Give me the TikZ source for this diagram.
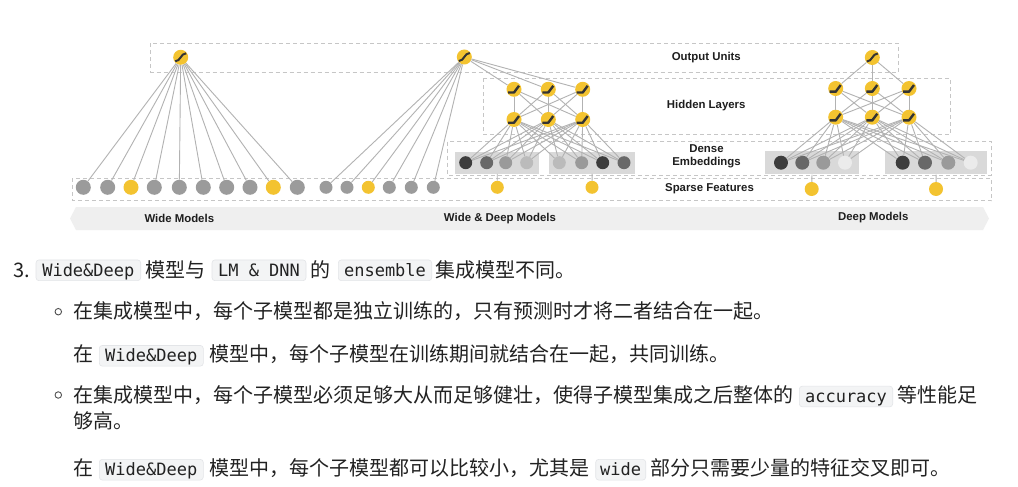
\documentclass[tikz,border=0pt]{standalone}
\usepackage{fontspec}
\setmainfont{Noto Sans CJK SC}
\newfontfamily\labfont{Liberation Sans}
\newfontfamily\codefont{DejaVu Sans Mono}
\definecolor{unityellow}{HTML}{F3C330}
\definecolor{linegray}{HTML}{B2B2B2}
\definecolor{boxgray}{HTML}{C6C6C6}
\definecolor{sgray}{HTML}{9B9B9B}
\definecolor{glyph}{HTML}{333333}
\definecolor{bandgray}{HTML}{EFEFEF}
\definecolor{embgray}{HTML}{D9D9D9}
\definecolor{ea}{HTML}{3D3D3D}
\definecolor{eb}{HTML}{686868}
\definecolor{ec}{HTML}{9A9A9A}
\definecolor{ed}{HTML}{BBBBBB}
\definecolor{ee}{HTML}{EBEBEB}
\definecolor{labtext}{HTML}{1E1E1E}
\definecolor{bodytext}{HTML}{222222}
\definecolor{codebg}{HTML}{F3F4F5}
\definecolor{codeborder}{HTML}{E3E5E8}
\tikzset{
  conn/.style={draw=linegray, line width=0.9pt},
  layerbox/.style={draw=boxgray, dash pattern=on 4pt off 3pt, line width=0.8pt},
  outunit/.style={circle, fill=unityellow, minimum size=15pt, inner sep=0pt,
    path picture={\draw[glyph, line width=2pt]
      ([xshift=-5.5pt,yshift=-4pt]path picture bounding box.center)
      .. controls ([xshift=0pt,yshift=-4pt]path picture bounding box.center)
      and ([xshift=0pt,yshift=4pt]path picture bounding box.center)
      .. ([xshift=5.5pt,yshift=4pt]path picture bounding box.center);}},
  hidunit/.style={circle, fill=unityellow, minimum size=15pt, inner sep=0pt,
    path picture={\draw[glyph, line width=2.4pt, line join=round]
      ([xshift=-6pt,yshift=-3.2pt]path picture bounding box.center)
      -- ([xshift=0pt,yshift=-3.2pt]path picture bounding box.center)
      -- ([xshift=5pt,yshift=3.5pt]path picture bounding box.center);}},
  dot/.style={circle, inner sep=0pt, minimum size=#1},
  dot/.default=13pt,
  embrect/.style={fill=embgray, inner sep=0pt},
  lab/.style={font=\labfont\bfseries\fontsize{11.4}{12.7}\selectfont, text=labtext, align=center, inner sep=0pt},
  body/.style={anchor=base west, inner sep=0pt, font=\fontsize{20}{24}\selectfont, text=bodytext},
  code/.style={draw=codeborder, fill=codebg, rounded corners=3pt, line width=0.6pt, inner sep=0pt,
    font=\codefont\fontsize{17}{20}\selectfont, text=bodytext, text height=13pt, text depth=1.6pt, minimum height=20.7pt},
  bullet/.style={circle, draw=bodytext!80, line width=0.9pt, minimum size=6.5pt, inner sep=0pt}
}
\begin{document}
\begin{tikzpicture}[x=1pt,y=-1pt]
\useasboundingbox[fill=white] (0,0) rectangle (1018,487);

% bottom band
\fill[bandgray] (76,207) -- (70,218.5) -- (76,230) -- (983,230) -- (989,218.5) -- (983,207) -- cycle;
\node[lab] (bw) at (179.3,218.3) {Wide Models};
\node[lab] (bwd) at (500,218.3) {Wide \& Deep Models};
\node[lab] (bd) at (873.3,217.3) {Deep Models};

% layer boxes
\draw[layerbox] (150.7,43.3) rectangle (898.3,72.3);
\draw[layerbox] (483.3,78.3) rectangle (950.7,134.3);
\draw[layerbox] (447.7,141.7) rectangle (991.7,175);
\draw[layerbox] (72.3,178.3) rectangle (991.7,200.7);
\node[lab] (lo) at (706.3,57.7) {Output Units};
\node[lab] (lh) at (706.2,106) {Hidden Layers};
\node[lab] (le) at (706.5,156.3) {Dense\\Embeddings};
\node[lab] (ls) at (709.5,189) {Sparse Features};

% embedding rectangles
\node[embrect, minimum width=84.3pt, minimum height=21.4pt] (wr1) at (497.2,163) {};
\node[embrect, minimum width=85.7pt, minimum height=21.4pt] (wr2) at (592.2,163) {};
\node[embrect, minimum width=94.3pt, minimum height=23.3pt] (dr1) at (812.2,162.7) {};
\node[embrect, minimum width=102.3pt, minimum height=23.3pt] (dr2) at (936.2,162.7) {};

% ---------- wide model ----------
\node[outunit] (wo) at (180.7,57.3) {};
\foreach \x/\c [count=\i] in {83.3/sgray,107.7/sgray,131/unityellow,154.3/sgray,179.3/sgray,203.3/sgray,226.7/sgray,250/sgray,273.3/unityellow,297.3/sgray}
  \node[dot=15pt, fill=\c] (ws\i) at (\x,187.3) {};
\foreach \i in {1,...,10} \draw[conn] (wo) -- (ws\i);

% ---------- wide & deep model ----------
\node[outunit] (wdo) at (464.3,57) {};
\foreach \x/\c [count=\i] in {326/sgray,347/sgray,368.3/unityellow,389.3/sgray,411.3/sgray,433.3/sgray}
  \node[dot=13pt, fill=\c] (wds\i) at (\x,187.3) {};
\foreach \i in {1,...,6} \draw[conn] (wdo) -- (wds\i);
\foreach \x [count=\i] in {514,548.3,582.7} {
  \node[hidunit] (wdt\i) at (\x,89.3) {};
  \node[hidunit] (wdb\i) at (\x,119.5) {};
}
\foreach \x/\c [count=\i] in {465.7/ea,486.7/eb,505.7/ec,526.7/ed,559.3/ed,581.7/ec,602.7/ea,624/eb}
  \node[dot=13pt, fill=\c] (wde\i) at (\x,162.7) {};
\node[dot=13pt, fill=unityellow] (wdy1) at (497.3,187.3) {};
\node[dot=13pt, fill=unityellow] (wdy2) at (592,187.3) {};
\draw[conn] (wr1) -- (wdy1);
\draw[conn] (wr2) -- (wdy2);
\foreach \i in {1,2,3} {
  \draw[conn] (wdo) -- (wdt\i);
  \foreach \j in {1,2,3} \draw[conn] (wdt\i) -- (wdb\j);
  \foreach \k in {1,...,8} \draw[conn] (wdb\i) -- (wde\k);
}

% ---------- deep model ----------
\node[outunit] (do) at (872.3,57.5) {};
\foreach \x [count=\i] in {835.7,872.3,909} {
  \node[hidunit] (dt\i) at (\x,88.5) {};
  \node[hidunit] (db\i) at (\x,117.2) {};
}
\foreach \x/\c [count=\i] in {781/ea,802.3/eb,823.3/ec,845/ee,902.7/ea,925/eb,948.3/ec,970.7/ee}
  \node[dot=14pt, fill=\c] (de\i) at (\x,162.7) {};
\node[dot=14pt, fill=unityellow] (dy1) at (811.7,189) {};
\node[dot=14pt, fill=unityellow] (dy2) at (936,189) {};
\draw[conn] (dr1) -- (dy1);
\draw[conn] (dr2) -- (dy2);
\foreach \i in {1,2,3} {
  \draw[conn] (do) -- (dt\i);
  \foreach \j in {1,2,3} \draw[conn] (dt\i) -- (db\j);
  \foreach \k in {1,...,8} \draw[conn] (db\i) -- (de\k);
}

% ---------- text ----------
% line 1
\node[body] (t1a) at (13,277) {3.};
\node[code, minimum width=104.7pt] (c1) at (88.35,270.3) {Wide\&Deep};
\node[body] (t1b) at (145.7,277) {模型与};
\node[code, minimum width=94pt] (c2) at (259,270.3) {LM \& DNN};
\node[body] (t1c) at (310.7,277) {的};
\node[code, minimum width=93.4pt] (c3) at (385,270.3) {ensemble};
\node[body] (t1d) at (435.7,277) {集成模型不同。};
% line 2
\node[bullet] (b1) at (58.3,311.7) {};
\node[body] (t2) at (73,318.7) {在集成模型中，每个子模型都是独立训练的，只有预测时才将二者结合在一起。};
% line 3
\node[body] (t3a) at (73,361.5) {在};
\node[code, minimum width=104pt] (c4) at (151.3,355.8) {Wide\&Deep};
\node[body] (t3b) at (209,361.5) {模型中，每个子模型在训练期间就结合在一起，共同训练。};
% line 4
\node[bullet] (b2) at (58.3,395) {};
\node[body] (t4a) at (73,402) {在集成模型中，每个子模型必须足够大从而足够健壮，使得子模型集成之后整体的};
\node[code, minimum width=93.4pt] (c5) at (846,396.5) {accuracy};
\node[body] (t4b) at (897.3,402) {等性能足};
% line 5
\node[body] (t5) at (73,428.7) {够高。};
% line 6
\node[body] (t6a) at (73,475.3) {在};
\node[code, minimum width=104pt] (c6) at (151.3,469.7) {Wide\&Deep};
\node[body] (t6b) at (209,475.3) {模型中，每个子模型都可以比较小，尤其是};
\node[code, minimum width=50pt] (c7) at (620.7,469.7) {wide};
\node[body] (t6c) at (650.7,475.3) {部分只需要少量的特征交叉即可。};
\end{tikzpicture}
\end{document}
